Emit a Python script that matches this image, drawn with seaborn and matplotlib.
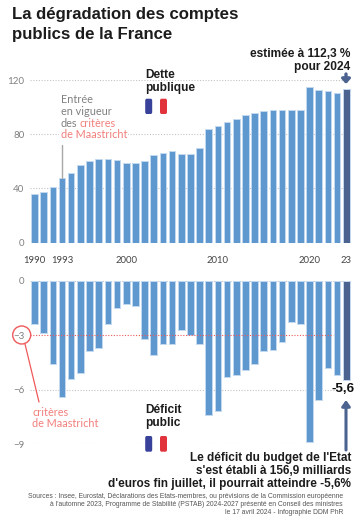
import pandas as pd
import matplotlib.pyplot as plt
from matplotlib.patches import FancyBboxPatch, Circle
from matplotlib.lines import Line2D
import seaborn as sns

# Données
annees = list(range(1990, 2025))
dette = [36, 37, 41, 47.5, 51, 57, 60, 61.3, 61.3, 60.8, 59, 58.6, 60.5, 64.5, 66.3, 67.7, 65, 65,
         69.5, 83.7, 86, 88.7, 91.4, 94.3, 95.8, 96.8, 97.5, 98.2, 98, 97.5, 114.6, 112.8, 111.7, 110.4, 113.5]
deficit = [-2.4, -2.9, -4.6, -6.4, -5.4, -5.1, -3.9, -3.7, -2.4, -1.5, -1.3, -1.4, -3.2, -4.1, -3.5, -3.5,
           -2.7, -3.0, -3.5, -7.4, -7.2, -5.3, -5.2, -4.9, -4.6, -3.9, -3.8, -3.4, -2.3, -2.4, -8.9, -6.6,
           -4.8, -5.2, -5.5]
x_ticks_annees = [1990, 1993, 2000, 2010, 2020, 2024]
x_ticks_labels = ['1990', '1993', '2000', '2010', '2020', '23']

W, H = 360, 520
BLEU = '#5f97cf'
FONCE = '#4c6390'
LISERE = '#c3d9ef'
ROUGE = '#f0595a'
ROUGE_TXT = '#f27f7c'
GRIS = '#808080'
ARIAL = 'Liberation Sans'

sns.set_theme(style='white')
plt.rcParams['font.family'] = ['Lato', 'DejaVu Sans']

df = pd.DataFrame({'annee': annees, 'dette': dette, 'deficit': deficit})
couleurs = {a: BLEU for a in annees}
couleurs[2024] = FONCE

fig = plt.figure(figsize=(W / 100, H / 100), dpi=100, facecolor='white')


def axes_px(x0, x1, y_haut, y_bas):
    return fig.add_axes([x0 / W, 1 - y_bas / H, (x1 - x0) / W, (y_bas - y_haut) / H])


def txt(x, y, s, **kw):
    kw.setdefault('va', 'center')
    return fig.text(x / W, 1 - y / H, s, **kw)


def ligne(xs, ys, **kw):
    fig.add_artist(Line2D([x / W for x in xs], [1 - y / H for y in ys], **kw))


def drapeau(y0, y1):
    for x0, c in [(145.2, '#39429a'), (160, '#e0333c')]:
        fig.add_artist(FancyBboxPatch((x0 / W, 1 - y1 / H), 7 / W, (y1 - y0) / H,
                                      boxstyle='round,pad=0,rounding_size=0.004',
                                      transform=fig.transFigure, fc=c, ec='none'))


def barres(ax, col):
    sns.barplot(data=df, x='annee', y=col, hue='annee', palette=couleurs, legend=False, ax=ax,
                order=annees, width=0.72, edgecolor=LISERE, linewidth=0.7, saturation=1, zorder=3)
    ax.set_xlim(-0.5, 34.5)
    ax.set_xlabel('')
    ax.set_ylabel('')
    ax.patch.set_alpha(0)
    sns.despine(ax=ax, left=True, bottom=True)


# Dette publique
ax1 = axes_px(29.9, 350.9, 80, 242.5)
barres(ax1, 'dette')
ax1.set_ylim(0, 120)
ax1.set_yticks([0, 40, 80, 120])
ax1.hlines([0, 40, 80, 120], -0.5, 34.3, color='#c4c4c4', lw=0.8, ls=(0, (1, 1.5)), zorder=1)
ax1.tick_params(axis='y', length=0, pad=4, labelsize=7, labelcolor=GRIS)
ax1.set_xticks([annees.index(a) for a in x_ticks_annees])
ax1.set_xticklabels(x_ticks_labels)
ax1.tick_params(axis='x', length=0, pad=10, labelsize=6.8, labelcolor='#444444')

# Déficit public
ax2 = axes_px(29.9, 350.9, 280.7, 444)
barres(ax2, 'deficit')
ax2.set_ylim(-9, 0)
ax2.set_yticks([0, -3, -6, -9])
ax2.hlines([0, -6, -9], -0.5, 33.8, color='#c4c4c4', lw=0.8, ls=(0, (1, 1.5)), zorder=1)
ax2.hlines(-3, -0.5, 32.5, color=ROUGE, lw=0.8, ls=(0, (1, 1.5)), zorder=4)
ax2.tick_params(axis='y', length=0, pad=4, labelsize=7, labelcolor=GRIS)
ax2.set_xticks([])

# Titre
txt(11.5, 15, 'La dégradation des comptes', fontsize=12.1, fontweight='bold', family=ARIAL, color='#1c1c1c')
txt(11.5, 34, 'publics de la France', fontsize=12.1, fontweight='bold', family=ARIAL, color='#1c1c1c')

# Annotations du haut
txt(350, 54, 'estimée à 112,3 %', ha='right', fontsize=8.6, fontweight='bold', family=ARIAL, color='#1c1c1c')
txt(350, 67, 'pour 2024', ha='right', fontsize=8.6, fontweight='bold', family=ARIAL, color='#1c1c1c')
fig.add_artist(plt.Annotation('', xy=(346 / W, 1 - 84 / H), xytext=(346 / W, 1 - 74 / H),
                              xycoords='figure fraction', textcoords='figure fraction',
                              arrowprops=dict(arrowstyle='-|>,head_width=0.2,head_length=0.22',
                                              color=FONCE, lw=2.4, shrinkA=0, shrinkB=0)))
txt(145, 75, 'Dette', fontsize=8.6, fontweight='bold', family=ARIAL, color='#1c1c1c')
txt(145, 88, 'publique', fontsize=8.6, fontweight='bold', family=ARIAL, color='#1c1c1c')
drapeau(98.7, 114)

txt(60.5, 99.5, 'Entrée', fontsize=7.8, color=GRIS)
txt(60.5, 111.5, 'en vigueur', fontsize=7.8, color=GRIS)
txt(60.5, 123.5, 'des', fontsize=7.8, color=GRIS)
txt(79.5, 123.5, 'critères', fontsize=7.8, color=ROUGE_TXT)
txt(60.5, 135, 'de Maastricht', fontsize=7.8, color=ROUGE_TXT,
    bbox=dict(fc='white', ec='none', pad=1))
ligne([62, 62], [145, 178], color='#a8a8a8', lw=1)

# Annotations du bas
fig.add_artist(Circle((21.7, H - 335), 9, transform=None, fc='none', ec=ROUGE, lw=1))
ligne([25, 39], [344, 402], color=ROUGE, lw=0.9)
txt(32.5, 412, 'critères', fontsize=7.8, color=ROUGE_TXT)
txt(32.5, 423.7, 'de Maastricht', fontsize=7.8, color=ROUGE_TXT)
txt(145, 410, 'Déficit', fontsize=8.6, fontweight='bold', family=ARIAL, color='#1c1c1c')
txt(145, 423, 'public', fontsize=8.6, fontweight='bold', family=ARIAL, color='#1c1c1c')
drapeau(436, 451.7)

txt(355, 389.5, '-5,6', ha='right', fontsize=9.6, fontweight='bold', family=ARIAL, color='#111111')
fig.add_artist(plt.Annotation('', xy=(346 / W, 1 - 400 / H), xytext=(346 / W, 1 - 450 / H),
                              xycoords='figure fraction', textcoords='figure fraction',
                              arrowprops=dict(arrowstyle='-|>,head_width=0.2,head_length=0.28',
                                              color=FONCE, lw=2.2, shrinkA=0, shrinkB=0)))

for y, s in [(458, "Le déficit du budget de l'Etat"),
             (471, "s'est établi à 156,9 milliards"),
             (484.5, "d'euros fin juillet, il pourrait atteindre -5,6%")]:
    txt(351, y, s, ha='right', fontsize=8.5, fontweight='bold', family=ARIAL, color='#1c1c1c')

for y, s in [(496.5, 'Sources : Insee, Eurostat, Déclarations des Etats-membres, ou prévisions de la Commission européenne'),
             (504.8, "à l'automne 2023, Programme de Stabilité (PSTAB) 2024-2027 présenté en Conseil des ministres"),
             (513, 'le 17 avril 2024 - Infographie DDM PhR')]:
    txt(343, y, s, ha='right', fontsize=4.9, family=ARIAL, color='#555555')

fig.savefig('out.png', dpi=100)
